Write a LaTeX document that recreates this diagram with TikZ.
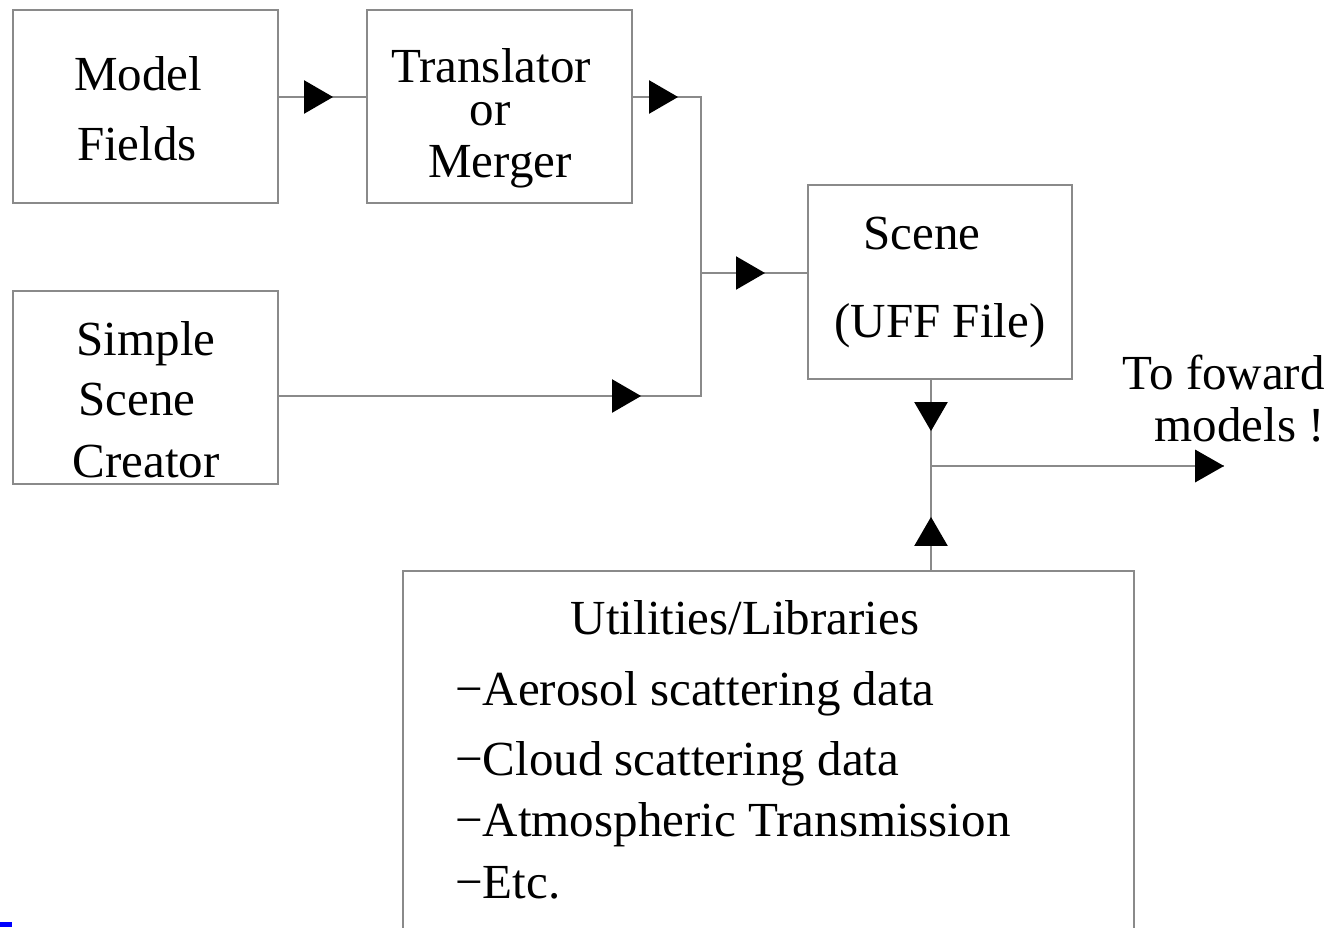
\documentclass[tikz,border=0pt]{standalone}
\usepackage{fontspec}
\setmainfont{Liberation Serif}
\usetikzlibrary{arrows.meta,decorations.markings}
\tikzset{
  box/.style={draw=linegray, line width=2.2pt, inner sep=0pt},
  wire/.style={draw=linegray, line width=2.2pt},
  lbl/.style={inner sep=0pt, anchor=base, font=\fontsize{49}{53}\selectfont},
  midarrow/.style={postaction={decorate},decoration={markings,
     mark=at position #1 with {\arrow[black]{Triangle[length=29pt,width=33pt]}}}},
}
\definecolor{linegray}{HTML}{8A8A8A}
\begin{document}
\begin{tikzpicture}[x=1pt,y=-1pt]
\useasboundingbox (0,0) rectangle (1332,927);
\fill[white] (0,0) rectangle (1332,927);
% boxes
\node[box, minimum width=265pt, minimum height=193pt] (mf) at (145.5,106.5) {};
\node[box, minimum width=265pt, minimum height=193pt] (tr) at (499.5,106.5) {};
\node[box, minimum width=265pt, minimum height=193pt] (ssc) at (145.5,387.5) {};
\node[box, minimum width=264pt, minimum height=194pt] (sc) at (940,282) {};
\node[box, minimum width=731pt, minimum height=400pt] (ut) at (768.5,771) {};
% texts
\node[lbl] (t1) at (138,90) {Model};
\node[lbl] (t2) at (137,160) {Fields};
\node[lbl] (t3) at (491,82) {Translator};
\node[lbl] (t4) at (490,125) {or};
\node[lbl] (t5) at (500,177) {Merger};
\node[lbl] (t6) at (146,355) {Simple};
\node[lbl] (t7) at (137,415) {Scene};
\node[lbl] (t8) at (146,477) {Creator};
\node[lbl] (t9) at (922,249) {Scene};
\node[lbl] (t10) at (940,337) {(UFF File)};
\node[lbl, anchor=base east] (t11) at (1325,389) {To foward};
\node[lbl, anchor=base east] (t12) at (1325,441) {models !};
\node[lbl] (t13) at (745,634) {Utilities/Libraries};
\node[lbl, anchor=base west] (t14) at (455,705) {−Aerosol scattering data};
\node[lbl, anchor=base west] (t15) at (455,775) {−Cloud scattering data};
\node[lbl, anchor=base west] (t16) at (455,836) {−Atmospheric Transmission};
\node[lbl, anchor=base west] (t17) at (455,898) {−Etc.};
% junctions
\coordinate (j1) at (701,97);
\coordinate (j2) at (701,273);
\coordinate (j3) at (701,396);
\coordinate (j4) at (931,466);
\coordinate (out) at (1224,466);
% connectors
\draw[wire, midarrow=54pt] (mf.east |- 0,97) -- (tr.west |- 0,97);
\draw[wire, midarrow=45pt] (tr.east |- 0,97) -- (j1) -- (j2);
\draw[wire, midarrow=362pt] (ssc.east |- 0,396) -- (j3) -- (j2);
\draw[wire, midarrow=64pt] (j2) -- (sc.west |- 0,273);
\draw[wire, midarrow=51pt] (sc.south -| 931,0) -- (j4);
\draw[wire, midarrow=53pt] (ut.north -| 931,0) -- (j4);
\draw[wire] (j4) -- (out);
\fill[black] (out) -- ++(-29,-16.5) -- ++(0,33) -- cycle;
% stray blue mark
\fill[blue] (0,922) rectangle (12,927);
\end{tikzpicture}
\end{document}
